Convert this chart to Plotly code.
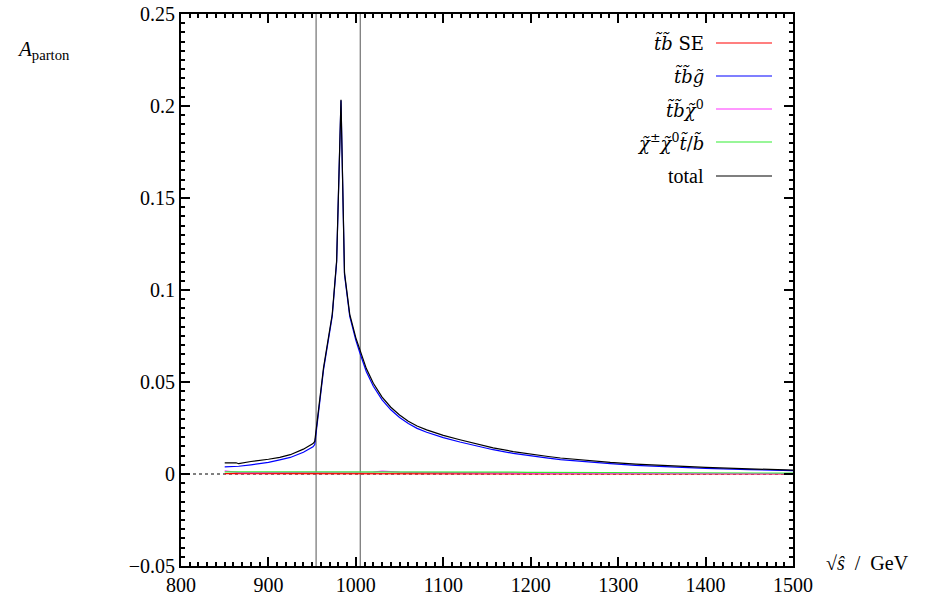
import plotly.graph_objects as go

# ---- data ----
sqrt_s = [850, 863, 866, 880, 900, 913, 925, 940, 951, 953, 963, 973, 978, 983, 987,
          993, 1000, 1005, 1012, 1020, 1030, 1040, 1050, 1060, 1070, 1081, 1100, 1119, 1140, 1157,
          1180, 1196, 1220, 1234, 1260, 1291, 1320, 1350, 1400, 1450, 1500]

total = [0.0061, 0.0061, 0.0056, 0.0068, 0.0080, 0.0090, 0.0105, 0.0135, 0.0165, 0.0177,
         0.0577, 0.0868, 0.1158, 0.2034, 0.1094, 0.0868, 0.0740, 0.0668, 0.0573, 0.0493,
         0.0418, 0.0363, 0.0321, 0.0287, 0.0261, 0.0240, 0.0210, 0.0186, 0.0160, 0.0142,
         0.0122, 0.0110, 0.0095, 0.0087, 0.0075, 0.0063, 0.0054, 0.0046, 0.0036, 0.0028, 0.0021]

tb_gluino = [0.0039, 0.0040, 0.0042, 0.0050, 0.0063, 0.0077, 0.0090, 0.0118, 0.0148, 0.0160,
             0.0566, 0.0858, 0.1150, 0.2030, 0.1085, 0.0857, 0.0726, 0.0652, 0.0556, 0.0477,
             0.0403, 0.0349, 0.0307, 0.0274, 0.0248, 0.0227, 0.0198, 0.0174, 0.0149, 0.0132,
             0.0112, 0.0100, 0.0086, 0.0078, 0.0067, 0.0056, 0.0047, 0.0040, 0.0031, 0.0024, 0.0018]

tb_neutralino = [0.0017, 0.0010, 0.0008, 0.0007, 0.0007, 0.0007, 0.0007, 0.0008, 0.0008, 0.0008,
                 0.0008, 0.0008, 0.0008, 0.0008, 0.0008, 0.0008, 0.0008, 0.0009, 0.0010, 0.0011,
                 0.0016, 0.0011, 0.0010, 0.0009, 0.0009, 0.0008, 0.0008, 0.0007, 0.0007, 0.0006,
                 0.0006, 0.0005, 0.0005, 0.0004, 0.0004, 0.0003, 0.0003, 0.0003, 0.0002, 0.0002, 0.0002]

chargino_neutralino = [0.0012, 0.0012, 0.0012, 0.0012, 0.0012, 0.0012, 0.0012, 0.0013, 0.0013, 0.0013,
                       0.0013, 0.0013, 0.0013, 0.0013, 0.0013, 0.0013, 0.0013, 0.0013, 0.0013, 0.0013,
                       0.0014, 0.0013, 0.0013, 0.0013, 0.0013, 0.0012, 0.0012, 0.0011, 0.0011, 0.0010,
                       0.0010, 0.0009, 0.0009, 0.0008, 0.0008, 0.0007, 0.0007, 0.0006, 0.0006, 0.0005, 0.0005]

tb_se = [0.0002, 0.0002, 0.0002, 0.0002, 0.0002, 0.0002, 0.0002, 0.0002, 0.0002, 0.0002,
         0.0002, 0.0002, 0.0002, 0.0002, 0.0002, 0.0002, 0.0002, 0.0002, 0.0002, 0.0002,
         0.0002, 0.0002, 0.0002, 0.0002, 0.0002, 0.0001, 0.0001, 0.0001, 0.0001, 0.0001,
         0.0001, 0.0001, 0.0001, 0.0001, 0.0001, 0.0001, 0.0000, 0.0000, 0.0000, 0.0000, 0.0000]

thresholds = [954.5, 1005.0]

x_range = [800, 1500]
y_range = [-0.05, 0.25]

series = [
    ("<i>t̃b̃</i> SE", tb_se, "#ff0000"),
    ("<i>t̃b̃g̃</i>", tb_gluino, "#0000ff"),
    ("<i>t̃b̃χ̃</i><sup>0</sup>", tb_neutralino, "#ff33ff"),
    ("<i>χ̃</i><sup>±</sup><i>χ̃</i><sup>0</sup><i>t̃</i>/<i>b̃</i>", chargino_neutralino, "#33ee33"),
    ("total", total, "#000000"),
]

FONT = "Liberation Serif"
LEGFONT = "DejaVu Serif"

L, R, T, B = 181, 793, 14, 566
W, H = 944, 597


def px_x(px):
    return (px - L) / (R - L)


def px_y(py):
    return (B - py) / (B - T)


fig = go.Figure()

# dotted zero line
fig.add_trace(go.Scatter(x=x_range, y=[0, 0], mode="lines",
                         line=dict(color="black", width=1, dash="dot"),
                         showlegend=False, hoverinfo="skip"))

# threshold lines
for t in thresholds:
    fig.add_trace(go.Scatter(x=[t, t], y=y_range, mode="lines",
                             line=dict(color="#555555", width=1),
                             showlegend=False, hoverinfo="skip"))

for name, ys, col in series:
    fig.add_trace(go.Scatter(x=sqrt_s, y=ys, mode="lines", name=name,
                             line=dict(color=col, width=1.2), showlegend=False))

# legend drawn manually (text right-aligned, sample line to the right)
legend_y_px = [43, 76, 109, 142, 176]
for (name, ys, col), ypx in zip(series, legend_y_px):
    fig.add_annotation(xref="paper", yref="paper", x=px_x(706), y=px_y(ypx),
                       text=name, showarrow=False, xanchor="right", yanchor="middle",
                       font=dict(family=LEGFONT if name != "total" else FONT,
                                 size=18 if name != "total" else 20, color="black"))
    fig.add_shape(type="line", xref="paper", yref="paper",
                  x0=px_x(716), x1=px_x(772), y0=px_y(ypx), y1=px_y(ypx),
                  line=dict(color=col, width=1.2))

# axis titles as annotations
fig.add_annotation(xref="paper", yref="paper", x=px_x(15), y=px_y(50),
                   text="<i>A</i><sub>parton</sub>", showarrow=False, xanchor="left", yanchor="middle",
                   font=dict(family=FONT, size=21, color="black"))
fig.add_annotation(xref="paper", yref="paper", x=px_x(824), y=px_y(563),
                   text="√<i>ŝ</i>  /  GeV", showarrow=False, xanchor="left", yanchor="middle",
                   font=dict(family=FONT, size=20, color="black"))

axis_common = dict(showgrid=False, zeroline=False, showline=True, linecolor="black", linewidth=2,
                   mirror="allticks", ticks="inside", ticklen=9, tickwidth=1.5, tickcolor="black",
                   automargin=False,
                   tickfont=dict(family=FONT, size=20, color="black"))

fig.update_xaxes(range=x_range, dtick=100, tick0=800,
                 minor=dict(ticks="inside", ticklen=4, dtick=10, tickcolor="black", tickwidth=1.5),
                 **axis_common)
fig.update_yaxes(range=y_range, dtick=0.05, tick0=0, tickformat="~g",
                 minor=dict(ticks="inside", ticklen=4, dtick=0.005, tickcolor="black", tickwidth=1.5),
                 **axis_common)

fig.update_layout(width=W, height=H, margin=dict(l=L, r=W - R, t=T, b=H - B, autoexpand=False),
                  plot_bgcolor="white", paper_bgcolor="white", showlegend=False,
                  font=dict(family=FONT, color="black"))

fig.write_html("out.html")
